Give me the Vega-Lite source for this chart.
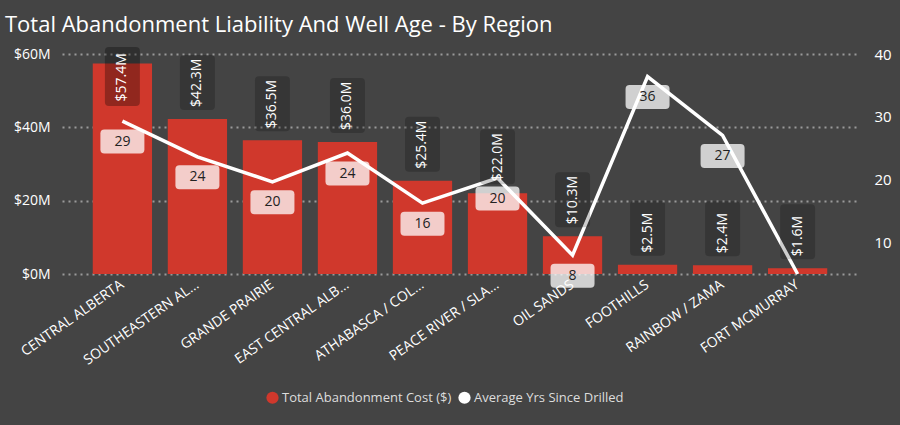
{
  "$schema": "https://vega.github.io/schema/vega-lite/v6.json",
  "width": 796,
  "height": 220,
  "autosize": {"type": "none"},
  "padding": {"left": 62, "top": 54, "right": 42, "bottom": 151},
  "background": "#444444",
  "config": {"view": {"stroke": null}, "font": "Open Sans"},
  "title": {"text": "Total Abandonment Liability And Well Age - By Region", "anchor": "start", "frame": "group", "dx": -57, "offset": 10, "fontSize": 22, "fontWeight": "normal", "color": "#ffffff", "font": "Open Sans"},
  "data": {"values": [
    {"region": "CENTRAL ALBERTA", "cost": 57.4, "yrs": 29.3},
    {"region": "SOUTHEASTERN AL...", "cost": 42.3, "yrs": 23.6},
    {"region": "GRANDE PRAIRIE", "cost": 36.5, "yrs": 19.6},
    {"region": "EAST CENTRAL ALB...", "cost": 36.0, "yrs": 24.2},
    {"region": "ATHABASCA / COL...", "cost": 25.4, "yrs": 16.2},
    {"region": "PEACE RIVER / SLA...", "cost": 22.0, "yrs": 20.2},
    {"region": "OIL SANDS", "cost": 10.3, "yrs": 7.9},
    {"region": "FOOTHILLS", "cost": 2.5, "yrs": 36.4},
    {"region": "RAINBOW / ZAMA", "cost": 2.4, "yrs": 27.0},
    {"region": "FORT MCMURRAY", "cost": 1.6, "yrs": 4.9}
  ]},
  "transform": [{"calculate": "'$' + format(datum.cost, '.1f') + 'M'", "as": "costLabel"}],
  "encoding": {
    "x": {"field": "region", "type": "nominal", "sort": null,
      "scale": {"paddingInner": 0.21, "paddingOuter": 0.41},
      "axis": {"title": null, "labelAngle": -35, "labelAlign": "right", "labelBaseline": "middle", "labelFontSize": 14, "labelColor": "#ffffff", "domain": false, "ticks": false, "labelPadding": 9, "labelLimit": 200}}
  },
  "layer": [
    {
      "mark": {"type": "bar"},
      "encoding": {
        "y": {"field": "cost", "type": "quantitative", "scale": {"domain": [0, 60]},
          "axis": {"title": null, "values": [0, 20, 40, 60], "labelExpr": "'$' + datum.value + 'M'", "grid": true, "gridDash": [2, 4], "gridColor": "#9a9a9a", "gridWidth": 2, "domain": false, "ticks": false, "labelPadding": 12, "labelFontSize": 14, "labelColor": "#ffffff"}},
        "color": {"datum": "Total Abandonment Cost ($)", "type": "nominal",
          "scale": {"domain": ["Total Abandonment Cost ($)", "Average Yrs Since Drilled"], "range": ["#d0382c", "#ffffff"]},
          "legend": {"orient": "none", "legendX": 204, "legendY": 337, "direction": "horizontal", "title": null, "labelFontSize": 13, "labelLimit": 400, "labelColor": "#dddddd", "symbolType": "circle", "symbolSize": 150, "columnPadding": 6, "labelOffset": 3, "symbolStrokeWidth": 0, "symbolOpacity": 1,
            "encode": {"symbols": {"update": {"fill": {"scale": "color", "field": "value"}, "opacity": {"value": 1}}}}}}
      }
    },
    {
      "mark": {"type": "line", "strokeWidth": 3.5},
      "encoding": {
        "y": {"field": "yrs", "type": "quantitative", "scale": {"domain": [4.9, 40], "nice": false, "zero": false},
          "axis": {"orient": "right", "title": null, "values": [10, 20, 30, 40], "grid": false, "domain": false, "ticks": false, "labelPadding": 16, "labelFontSize": 15, "labelColor": "#ffffff"}},
        "color": {"datum": "Average Yrs Since Drilled", "type": "nominal"}
      }
    },
    {
      "transform": [{"filter": "datum.cost <= 50"}],
      "mark": {"type": "point", "shape": "M-1.35,-6.4 H1.35 Q1.75,-6.4 1.75,-6 V-1.3 Q1.75,-0.9 1.35,-0.9 H-1.35 Q-1.75,-0.9 -1.75,-1.3 V-6 Q-1.75,-6.4 -1.35,-6.4 Z", "size": 400, "filled": true, "color": "#000000", "opacity": 0.2, "strokeWidth": 0},
      "encoding": {"y": {"field": "cost", "type": "quantitative", "scale": {"domain": [0, 60]}, "axis": null}}
    },
    {
      "transform": [{"filter": "datum.cost <= 50"}],
      "mark": {"type": "text", "angle": 270, "align": "left", "baseline": "middle", "dx": 12, "fontSize": 14, "color": "#ffffff"},
      "encoding": {"y": {"field": "cost", "type": "quantitative", "scale": {"domain": [0, 60]}, "axis": null}, "text": {"field": "costLabel"}}
    },
    {
      "transform": [{"filter": "datum.cost > 50"}],
      "mark": {"type": "point", "shape": "M-1.35,-1.65 H1.35 Q1.75,-1.65 1.75,-1.25 V3.85 Q1.75,4.25 1.35,4.25 H-1.35 Q-1.75,4.25 -1.75,3.85 V-1.25 Q-1.75,-1.65 -1.35,-1.65 Z", "size": 400, "filled": true, "color": "#000000", "opacity": 0.3, "strokeWidth": 0},
      "encoding": {"y": {"field": "cost", "type": "quantitative", "scale": {"domain": [0, 60]}, "axis": null}}
    },
    {
      "transform": [{"filter": "datum.cost > 50"}],
      "mark": {"type": "text", "angle": 270, "align": "left", "baseline": "middle", "dx": -38, "fontSize": 14, "color": "#ffffff"},
      "encoding": {"y": {"field": "cost", "type": "quantitative", "scale": {"domain": [0, 60]}, "axis": null}, "text": {"field": "costLabel"}}
    },
    {
      "transform": [{"filter": "datum.region != 'FORT MCMURRAY'"}],
      "mark": {"type": "point", "shape": "M-1.8,0.85 H1.8 Q2.2,0.85 2.2,1.25 V2.85 Q2.2,3.25 1.8,3.25 H-1.8 Q-2.2,3.25 -2.2,2.85 V1.25 Q-2.2,0.85 -1.8,0.85 Z", "size": 400, "filled": true, "color": "#ffffff", "opacity": 0.75, "strokeWidth": 0},
      "encoding": {"y": {"field": "yrs", "type": "quantitative", "scale": {"domain": [4.9, 40], "nice": false, "zero": false}, "axis": null}}
    },
    {
      "transform": [{"filter": "datum.region != 'FORT MCMURRAY'"}],
      "mark": {"type": "text", "align": "center", "baseline": "middle", "dy": 20.5, "fontSize": 14, "color": "#222222"},
      "encoding": {"y": {"field": "yrs", "type": "quantitative", "scale": {"domain": [4.9, 40], "nice": false, "zero": false}, "axis": null}, "text": {"field": "yrs", "format": ".0f"}}
    }
  ],
  "resolve": {"scale": {"y": "independent"}}
}
